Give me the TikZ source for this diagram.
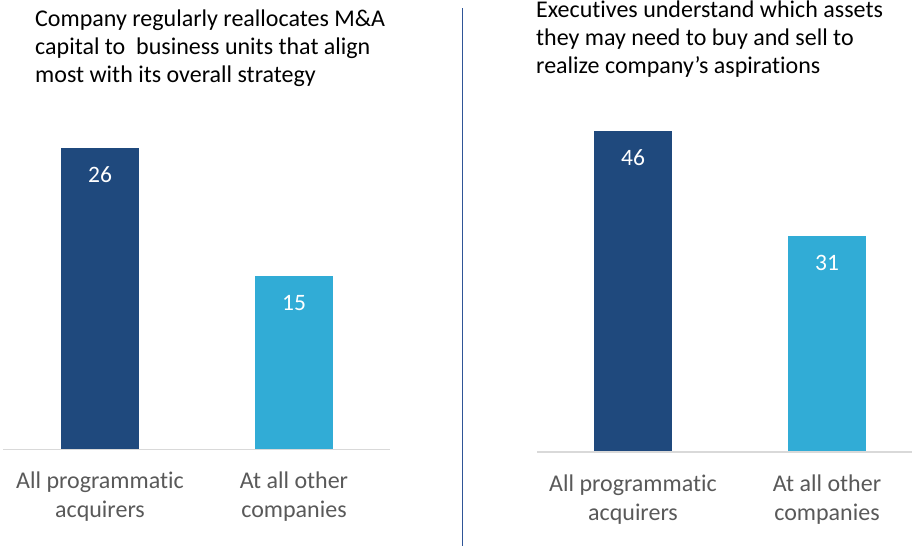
\documentclass[tikz,border=0pt]{standalone}
\usepackage{fontspec}
\setmainfont{Carlito}[Ligatures={NoCommon,NoContextual}]
\definecolor{progblue}{HTML}{1F497D}
\definecolor{otherblue}{HTML}{31ACD6}
\definecolor{axisgray}{HTML}{D9D9D9}
\definecolor{labelgray}{HTML}{595959}
\definecolor{splitblue}{HTML}{2F5597}
\begin{document}
\begin{tikzpicture}[x=1pt,y=-1pt,
    title/.style={anchor=base west,align=left,inner sep=0pt,font=\fontsize{24}{28}\selectfont},
    value/.style={anchor=base,inner sep=0pt,text=white,font=\fontsize{23.5}{26}\selectfont},
    category/.style={anchor=base,align=center,inner sep=0pt,text=labelgray,font=\fontsize{24}{29}\selectfont}]
      \useasboundingbox (0,0) rectangle (912,546);
      \pgfmathsetmacro{\lbase}{449.5}
      \pgfmathsetmacro{\rbase}{452}
      \pgfmathsetmacro{\lunit}{11.6}
      \pgfmathsetmacro{\runit}{6.98}
      % Titles (base anchor sits on the last line)
      \node[title] (ltitle) at (35,82) {Company regularly reallocates M\&A\\capital to\ \ business units that align\\most with its overall strategy};
      \node[title] (rtitle) at (536,73) {Executives understand which assets\\they may need to buy and sell to\\realize company’s aspirations};
      % Divider
      \draw[splitblue,line width=1.2pt] (462.5,8) -- (462.5,546);
      % Left bars
      \foreach \x/\v/\c in {100/26/progblue, 294/15/otherblue} {
        \fill[\c] (\x-39,\lbase) rectangle (\x+39,{\lbase-\v*\lunit});
        \node[value] (lv\v) at (\x,{\lbase-\v*\lunit+35}) {\v};
      }
      \draw[axisgray,line width=1.3pt] (3,\lbase) -- (390,\lbase);
      \node[category] (lprog) at (100,517) {All programmatic\\acquirers};
      \node[category] (lother) at (294,517) {At all other\\companies};
      % Right bars
      \foreach \x/\v/\c in {633/46/progblue, 827/31/otherblue} {
        \fill[\c] (\x-39,\rbase) rectangle (\x+39,{\rbase-\v*\runit});
        \node[value] (rv\v) at (\x,{\rbase-\v*\runit+35}) {\v};
      }
      \draw[axisgray,line width=1.3pt] (537,\rbase) -- (912,\rbase);
      \node[category] (rprog) at (633,520) {All programmatic\\acquirers};
      \node[category] (rother) at (827,520) {At all other\\companies};
    \end{tikzpicture}
\end{document}
